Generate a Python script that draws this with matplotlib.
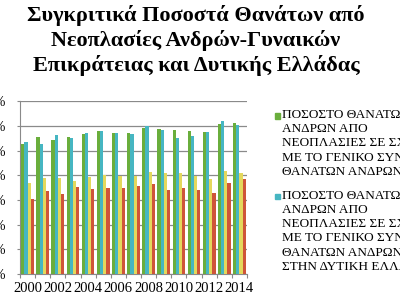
import numpy as np
import matplotlib
matplotlib.use('Agg')
import matplotlib.pyplot as plt
from matplotlib.patches import Rectangle

years = list(range(2000, 2015))
# % of deaths from neoplasms
men_greece = [26.4, 27.8, 27.2, 27.8, 28.4, 28.9, 28.5, 28.6, 29.7, 29.5, 29.1, 28.9, 28.7, 30.4, 30.6]
men_west = [26.7, 26.3, 28.1, 27.6, 28.5, 28.9, 28.5, 28.4, 30.1, 29.1, 27.5, 27.9, 28.7, 31.0, 30.2]
women_greece = [18.4, 19.5, 19.5, 18.9, 19.7, 20.0, 19.8, 19.8, 20.7, 20.4, 20.4, 19.9, 19.3, 20.9, 20.4]
women_west = [15.2, 16.9, 16.3, 17.7, 17.2, 17.5, 17.4, 17.9, 18.3, 17.0, 17.4, 17.0, 16.5, 18.4, 19.2]
yticks = [0, 5, 10, 15, 20, 25, 30, 35]

title = ('Συγκριτικά Ποσοστά Θανάτων από\n'
         'Νεοπλασίες Ανδρών-Γυναικών\n'
         'Επικράτειας και Δυτικής Ελλάδας')
label1 = ('ΠΟΣΟΣΤΟ ΘΑΝΑΤΩΝ\nΑΝΔΡΩΝ ΑΠΟ\nΝΕΟΠΛΑΣΙΕΣ ΣΕ ΣΧΕΣΗ\n'
          'ΜΕ ΤΟ ΓΕΝΙΚΟ ΣΥΝΟΛΟ\nΘΑΝΑΤΩΝ ΑΝΔΡΩΝ')
label2 = ('ΠΟΣΟΣΤΟ ΘΑΝΑΤΩΝ\nΑΝΔΡΩΝ ΑΠΟ\nΝΕΟΠΛΑΣΙΕΣ ΣΕ ΣΧΕΣΗ\n'
          'ΜΕ ΤΟ ΓΕΝΙΚΟ ΣΥΝΟΛΟ\nΘΑΝΑΤΩΝ ΑΝΔΡΩΝ\nΣΤΗΝ ΔΥΤΙΚΗ ΕΛΛΑΔΑ')

plt.rcParams['font.family'] = ['Liberation Serif', 'DejaVu Serif']

fig = plt.figure(figsize=(4, 3), dpi=100)
ax = fig.add_axes([0.05, 0.0867, 0.5675, 0.577])

x = np.arange(len(years))
w = 0.21
series = [men_greece, men_west, women_greece, women_west]
colors = ['#6aae3c', '#46b6c2', '#e4d85c', '#cf5539']
for i, (vals, c) in enumerate(zip(series, colors)):
    ax.bar(x + (i - 1.5) * w, vals, w, color=c, zorder=3)

ax.set_xlim(-0.5, len(years) - 0.5)
ax.set_ylim(0, 35.1)
ax.set_yticks(yticks)
ax.set_yticklabels(['%d%%' % v for v in yticks], fontsize=10)
ax.grid(axis='y', color='#8a8a8a', linewidth=0.9, zorder=0)

# tick marks at category boundaries, labels every other year
ax.set_xticks(np.arange(-0.5, len(years), 1.0))
ax.set_xticklabels([])
ax.set_xticks(x[::2], minor=True)
ax.set_xticklabels([str(y) for y in years[::2]], minor=True, fontsize=10.5)
ax.tick_params(axis='x', which='major', length=3, color='#8a8a8a')
ax.tick_params(axis='x', which='minor', length=0, pad=6)
ax.tick_params(axis='y', length=2, color='#8a8a8a', pad=8)

for s in ['top', 'right']:
    ax.spines[s].set_visible(False)
for s in ['left', 'bottom']:
    ax.spines[s].set_color('#8a8a8a')

fig.text(0.49, 0.985, title, ha='center', va='top', fontsize=16,
         fontweight='bold', linespacing=1.27)

# legend (only the first two entries fit in the picture)
for lab, c, ymid in [(label1, colors[0], 116), (label2, colors[1], 196.7)]:
    fig.patches.append(Rectangle((275 / 400, 1 - (ymid + 2.5) / 300), 5 / 400, 5 / 300,
                                 transform=fig.transFigure, color=c, figure=fig))
    fig.text(282 / 400, 1 - (ymid - 7) / 300, lab, ha='left', va='top',
             fontsize=9.5, linespacing=1.25)

fig.savefig('out.png', dpi=100)
